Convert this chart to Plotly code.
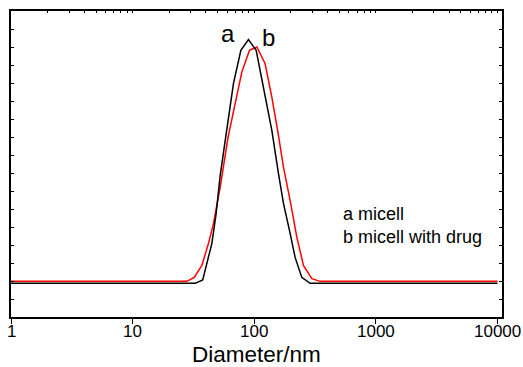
import math
import plotly.graph_objects as go

# Data (diameter in nm, relative intensity)
diam_a = [1, 32.7, 37.7, 40.8, 44.8, 48.6, 52.5, 58.2, 67.5, 77.6, 89.6, 103.7,
          120.6, 139.5, 158.1, 173.8, 197.2, 216.8, 246, 287.8, 10000]
int_a = [0, 0, 0.19, 1.09, 2.21, 3.88, 6.0, 8.11, 11.11, 12.94, 13.54, 12.94,
         10.72, 8.5, 6.11, 4.44, 2.78, 1.44, 0.33, 0, 0]

diam_b = [1, 27.9, 32.1, 37.1, 42.0, 46.2, 52.5, 60.7, 69.7, 79.1, 91.3, 105.1,
          122.9, 139.5, 157.2, 173.8, 197.2, 223.9, 253.7, 297.3, 347.9, 10000]
int_b = [0.11, 0.11, 0.33, 1.0, 2.21, 3.32, 5.35, 8.06, 10.0, 11.75, 12.94, 13.13,
         12.2, 10.35, 8.33, 6.46, 4.61, 2.57, 1.0, 0.26, 0.11, 0.11]

xticks = [1, 10, 100, 1000, 10000]
xtick_labels = ["1", "10", "100", "1000", "10000"]
minor_ticks = [m * 10 ** e for e in range(0, 4) for m in range(1, 10)] + [10000]

FONT = "Liberation Sans, Arial, Helvetica, sans-serif"
xrange_log = [0, 4.037]
yrange = [-1.87, 15.13]

L, R, T, B = 11, 21, 11, 50
W, H = 523, 367
pw, ph = W - L - R, H - T - B


def px_to_paper(x, y):
    return (x - L) / pw, 1 - (y - T) / ph


fig = go.Figure()
fig.add_trace(go.Scatter(x=diam_b, y=int_b, mode="lines",
                         line=dict(color="#ff0000", width=1.5), showlegend=False))
fig.add_trace(go.Scatter(x=diam_a, y=int_a, mode="lines",
                         line=dict(color="#000000", width=1.5), showlegend=False))
# invisible trace to anchor top axis
fig.add_trace(go.Scatter(x=[1, 10000], y=[0, 0], xaxis="x2", mode="lines",
                         line=dict(width=0), hoverinfo="skip", showlegend=False, opacity=0))

ax_a = px_to_paper(228, 34)
ax_b = px_to_paper(268, 37)
leg = px_to_paper(341, 225)

annotations = [
    dict(x=ax_a[0], y=ax_a[1], xref="paper", yref="paper", text="a", showarrow=False,
         xanchor="center", yanchor="middle", font=dict(size=24, family=FONT)),
    dict(x=ax_b[0], y=ax_b[1], xref="paper", yref="paper", text="b", showarrow=False,
         xanchor="center", yanchor="middle", font=dict(size=24, family=FONT)),
    dict(x=leg[0], y=leg[1], xref="paper", yref="paper",
         text="a micell<br>b micell with drug",
         showarrow=False, align="left", xanchor="left", yanchor="middle",
         font=dict(size=18, family=FONT)),
    dict(x=0.5, y=0, xref="paper", yref="paper", text="Diameter/nm", showarrow=False,
         xanchor="center", yanchor="top", yshift=-23.5, borderpad=0,
         font=dict(size=22.5, family=FONT)),
]
for v, lab in zip(xticks, xtick_labels):
    annotations.append(dict(x=math.log10(v), y=0, xref="x", yref="paper", text=lab,
                            showarrow=False, xanchor="center", yanchor="top",
                            yshift=-4, borderpad=0, font=dict(size=17, family=FONT)))

fig.update_layout(
    width=W, height=H,
    margin=dict(l=L, r=R, t=T, b=B, autoexpand=False),
    paper_bgcolor="white", plot_bgcolor="white",
    font=dict(family=FONT, color="black"),
    xaxis=dict(type="log", range=xrange_log, tickvals=xticks, showticklabels=False,
               ticks="outside", ticklen=5, tickwidth=1, tickcolor="black",
               showline=True, linecolor="black", linewidth=1.5, mirror=True,
               automargin=False, showgrid=False, zeroline=False),
    xaxis2=dict(type="log", range=xrange_log, overlaying="x", side="top",
                tickvals=minor_ticks, ticks="inside", ticklen=2, tickcolor="black",
                automargin=False,
                showticklabels=False, showgrid=False, showline=False, zeroline=False),
    yaxis=dict(range=yrange, tick0=0.13, dtick=1, ticks="inside", ticklen=3,
               tickcolor="black", showticklabels=False, showline=True,
               linecolor="black", linewidth=1.5, mirror="ticks", automargin=False,
               showgrid=False, zeroline=False),
    annotations=annotations,
)

fig.write_html("out.html")
